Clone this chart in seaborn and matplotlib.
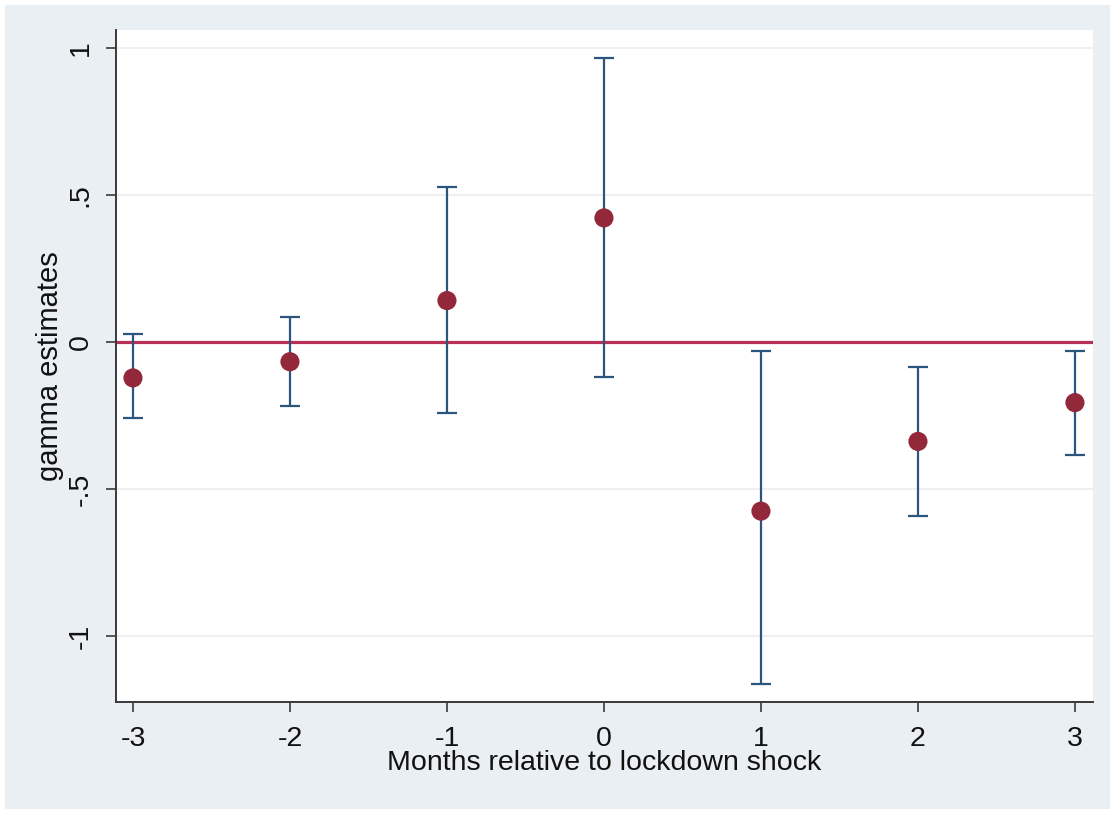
import matplotlib
matplotlib.use("Agg")
import matplotlib.pyplot as plt
from matplotlib.patches import Rectangle
import seaborn as sns
import pandas as pd

months = [-3, -2, -1, 0, 1, 2, 3]
estimates = [-0.122, -0.067, 0.141, 0.422, -0.575, -0.338, -0.206]
ci_low = [-0.257, -0.217, -0.242, -0.120, -1.163, -0.593, -0.383]
ci_high = [0.028, 0.084, 0.526, 0.967, -0.030, -0.084, -0.030]
ytick_vals = [-1, -0.5, 0, 0.5, 1]
ytick_labels = ["-1", "-.5", "0", ".5", "1"]

df = pd.DataFrame({"month": months, "est": estimates, "lo": ci_low, "hi": ci_high})

sns.set_theme(style="white")
plt.rcParams["font.family"] = ["Liberation Sans", "DejaVu Sans"]

bg = "#e9eff2"
fig = plt.figure(figsize=(11.15, 8.14), dpi=100, facecolor="white")
fig.patches.append(Rectangle((5 / 1115, 5 / 814), 1 - 10 / 1115, 1 - 10 / 814,
                             transform=fig.transFigure, facecolor=bg, edgecolor="none", zorder=-10))
ax = fig.add_axes([116 / 1115, 1 - 702 / 814, (1093 - 116) / 1115, (702 - 30) / 814])
ax.set_facecolor("white")

ax.axhline(0, color="#b83056", lw=2.3, zorder=2)
ax.errorbar(df["month"], df["est"],
            yerr=[df["est"] - df["lo"], df["hi"] - df["est"]],
            fmt="none", ecolor="#2b557c", elinewidth=1.6, capsize=7.5, capthick=1.6, zorder=3)
sns.scatterplot(data=df, x="month", y="est", ax=ax, color="#92283a", s=190,
                edgecolor="none", zorder=4, legend=False)

ax.set_xlim(-3.108, 3.115)
ax.set_ylim(-1.224, 1.061)
ax.set_xticks(months)
ax.set_xticklabels([str(m) for m in months])
ax.set_yticks(ytick_vals)
ax.set_yticklabels(ytick_labels, rotation=90, va="center")
ax.grid(axis="y", color="#ececec", lw=1.2, zorder=0)
ax.set_axisbelow(True)

for s in ["top", "right"]:
    ax.spines[s].set_visible(False)
for s in ["left", "bottom"]:
    ax.spines[s].set_color("#3a3a3a")
    ax.spines[s].set_linewidth(1.4)

ax.tick_params(axis="both", which="major", length=7, width=1.2, color="#3a3a3a",
               labelsize=20.5, labelcolor="#111111", direction="out", bottom=True, left=True)
ax.tick_params(axis="x", pad=10)
ax.tick_params(axis="y", pad=9)

ax.set_xlabel("Months relative to lockdown shock", fontsize=20.5, color="#111111", labelpad=-1)
ax.set_ylabel("gamma estimates", fontsize=21, color="#111111", labelpad=3)

fig.savefig("out.png", dpi=100, facecolor=fig.get_facecolor())
